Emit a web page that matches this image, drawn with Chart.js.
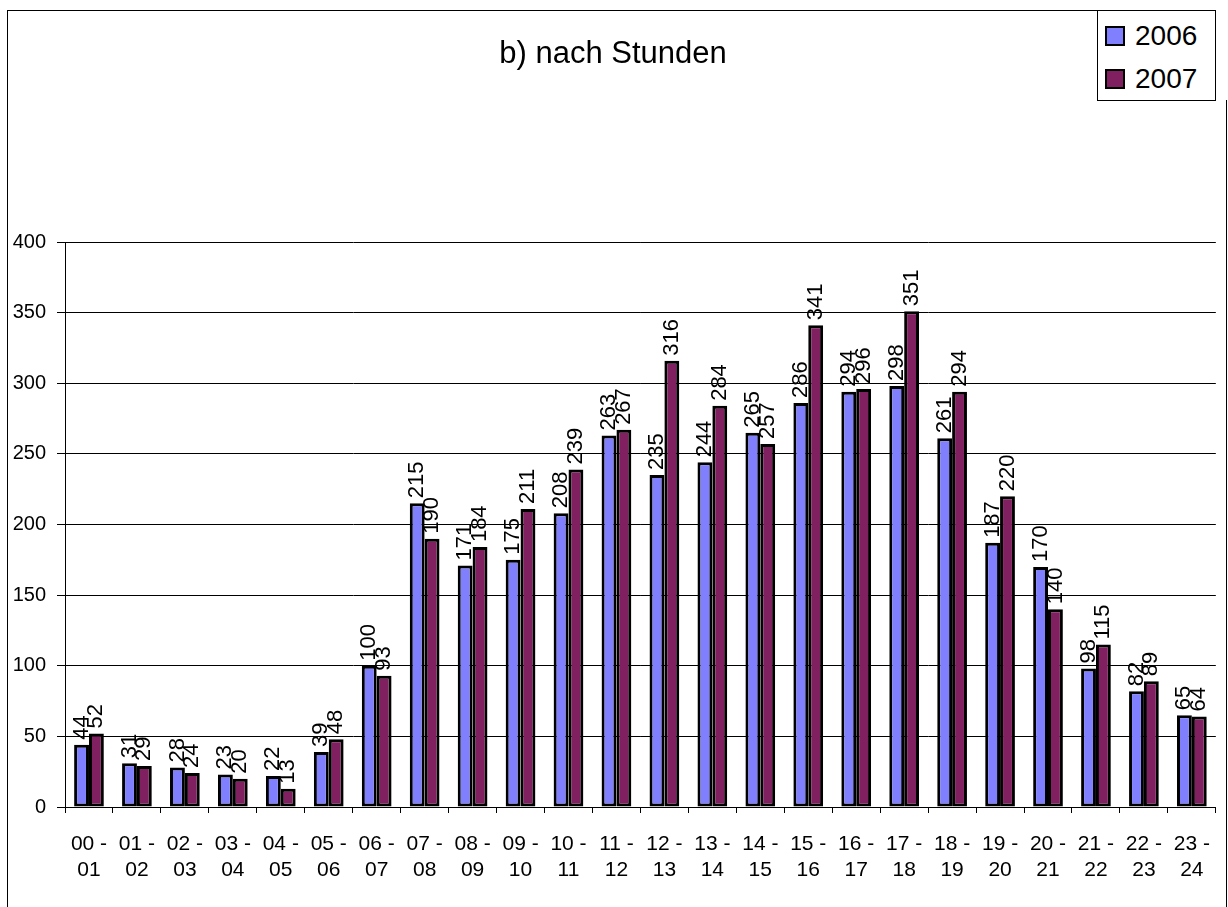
<!DOCTYPE html>
<html lang="de">
<head>
<meta charset="utf-8">
<title>b) nach Stunden</title>
<script src="https://cdn.jsdelivr.net/npm/chart.js@4.4.1/dist/chart.umd.min.js"></script>
<style>
  html, body { margin: 0; padding: 0; background: #fff; overflow: hidden; }
  body { width: 1228px; height: 907px; position: relative; font-family: "Liberation Sans", Arial, sans-serif; }
  #frame { position: absolute; left: 7px; top: 10px; width: 1208px; height: 1000px;
           border-left: 1px solid #000; border-top: 1px solid #000; }
  #frame-right { position: absolute; left: 1226px; top: 100px; width: 0; height: 900px; border-left: 1px solid #000; }
  #wrap { position: absolute; left: 0; top: 0; width: 1228px; height: 907px; }
  #legend { position: absolute; left: 1097px; top: 10px; width: 119px; height: 91px;
            border: 1px solid #000; background: #fff; box-sizing: border-box; }
  .item { position: absolute; left: 7px; height: 24px; display: flex; align-items: center;
          font-size: 28px; line-height: 24px; color: #000; }
  .swatch { width: 20px; height: 20px; border: 2px solid #000; box-sizing: border-box; margin-right: 10px; }
</style>
</head>
<body>
<div id="frame"></div>
<div id="frame-right"></div>
<div id="wrap"><canvas id="chart" width="1228" height="907"></canvas></div>
<div id="legend"></div>
<script>
// Stundenintervalle und Anzahl je Jahr
const hours = ['00 - 01', '01 - 02', '02 - 03', '03 - 04', '04 - 05', '05 - 06', '06 - 07', '07 - 08',
  '08 - 09', '09 - 10', '10 - 11', '11 - 12', '12 - 13', '13 - 14', '14 - 15', '15 - 16',
  '16 - 17', '17 - 18', '18 - 19', '19 - 20', '20 - 21', '21 - 22', '22 - 23', '23 - 24'];
const values2006 = [44, 31, 28, 23, 22, 39, 100, 215, 171, 175, 208, 263, 235, 244, 265, 286, 294, 298, 261, 187, 170, 98, 82, 65];
const values2007 = [52, 29, 24, 20, 13, 48, 93, 190, 184, 211, 239, 267, 316, 284, 257, 341, 296, 351, 294, 220, 140, 115, 89, 64];
const yTicks = [0, 50, 100, 150, 200, 250, 300, 350, 400];

const FONT = "'Liberation Sans', Arial, sans-serif";
Chart.defaults.font.family = FONT;
Chart.defaults.color = '#000';

// two-line axis labels: "00 -" / "01"
const labels = hours.map(h => {
  const parts = h.split(' - ');
  return [parts[0] + ' -', parts[1]];
});

// value labels, rotated, right above each bar
const barValues = {
  id: 'barValues',
  afterDatasetsDraw(chart) {
    const ctx = chart.ctx;
    ctx.save();
    ctx.font = '22px ' + FONT;
    ctx.fillStyle = '#000';
    ctx.textAlign = 'left';
    ctx.textBaseline = 'middle';
    chart.data.datasets.forEach((ds, i) => {
      chart.getDatasetMeta(i).data.forEach((bar, j) => {
        ctx.save();
        ctx.translate(bar.x, bar.y - 5);
        ctx.rotate(-Math.PI / 2);
        ctx.fillText(String(ds.data[j]), 0, 0);
        ctx.restore();
      });
    });
    ctx.restore();
  }
};

const chart = new Chart(document.getElementById('chart'), {
  type: 'bar',
  data: {
    labels: labels,
    datasets: [
      { label: '2006', data: values2006, backgroundColor: '#8080ff', borderColor: '#000', borderWidth: 3, borderSkipped: false },
      { label: '2007', data: values2007, backgroundColor: '#802060', borderColor: '#000', borderWidth: 3, borderSkipped: false }
    ]
  },
  options: {
    responsive: false,
    animation: false,
    events: [],
    layout: { padding: { left: 0, right: 2, top: 0, bottom: 0 } },
    datasets: { bar: { categoryPercentage: 0.62, barPercentage: 1.0 } },
    plugins: {
      legend: { display: false },
      tooltip: { enabled: false },
      title: {
        display: true,
        text: 'b) nach Stunden',
        color: '#000',
        font: { size: 31, weight: 'normal', lineHeight: 1.2 },
        padding: { top: 36, bottom: 168.8 }
      }
    },
    scales: {
      x: {
        grid: { display: true, drawOnChartArea: false, offset: true, color: '#000', tickLength: 6 },
        border: { color: '#000', width: 1 },
        ticks: { autoSkip: false, maxRotation: 0, padding: 18, font: { size: 21, lineHeight: 1.26 } },
        afterFit(scale) { scale.height = 100; }
      },
      y: {
        min: 0,
        max: 400,
        grid: { color: '#000', lineWidth: 1, tickLength: 8 },
        border: { color: '#000', width: 1 },
        ticks: { stepSize: 50, padding: 11, font: { size: 20 } },
        afterBuildTicks(scale) { scale.ticks = yTicks.map(v => ({ value: v })); },
        afterFit(scale) { scale.width = 65; }
      }
    }
  },
  plugins: [barValues]
});

// legend built from the datasets
const legend = document.getElementById('legend');
chart.data.datasets.forEach((ds, i) => {
  const item = document.createElement('div');
  item.className = 'item';
  item.style.top = (13 + i * 43) + 'px';
  item.innerHTML = `<span class="swatch" style="background:${ds.backgroundColor}"></span><span>${ds.label}</span>`;
  legend.appendChild(item);
});
</script>
</body>
</html>
